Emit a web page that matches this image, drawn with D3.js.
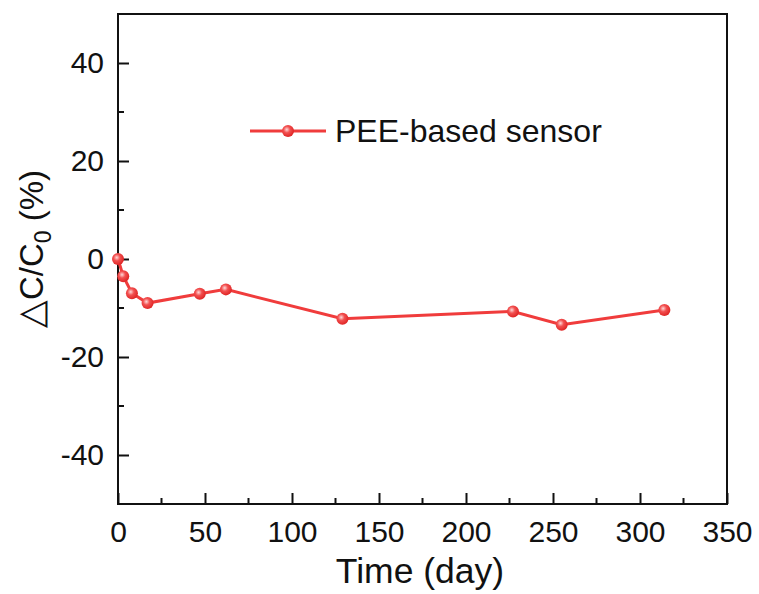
<!DOCTYPE html>
<html><head><meta charset="utf-8">
<script src="https://cdn.jsdelivr.net/npm/d3@7"></script>
<style>body{margin:0;background:#fff}svg{display:block}text{font-family:Arial,"Liberation Sans",sans-serif;fill:#111}</style>
</head><body><svg id="c" width="759" height="594"></svg>
<script>
const days = [0, 3, 8, 17, 47, 62, 129, 227, 255, 314];
const dC = [0, -3.5, -7.0, -9.0, -7.1, -6.2, -12.2, -10.7, -13.4, -10.4];
const xTicks = [0, 50, 100, 150, 200, 250, 300, 350];
const yTicks = [-40, -20, 0, 20, 40];
const seriesName = "PEE-based sensor";

const svg = d3.select("#c");
const L = 118, R = 727, T = 14, B = 504;
const x = d3.scaleLinear().domain([0, 350]).range([L, R]);
const y = d3.scaleLinear().domain([-50, 50]).range([B, T]);
const red = "#f03c3c";

const defs = svg.append("defs");
const g = defs.append("radialGradient").attr("id","ball").attr("cx","40%").attr("cy","38%").attr("r","60%");
g.append("stop").attr("offset","0%").attr("stop-color","#ffd8d8");
g.append("stop").attr("offset","45%").attr("stop-color","#f25050");
g.append("stop").attr("offset","100%").attr("stop-color","#e02828");

// frame
svg.append("rect").attr("x",L).attr("y",T).attr("width",R-L).attr("height",B-T)
  .attr("fill","none").attr("stroke","#111").attr("stroke-width",2);

// x axis
const xa = svg.append("g").attr("transform",`translate(0,${B})`)
  .call(d3.axisBottom(x).tickValues(xTicks).tickSize(-11).tickPadding(17).tickFormat(d=>String(d)));
xa.select(".domain").remove();
xa.selectAll("line").attr("stroke","#111").attr("stroke-width",2);
xa.selectAll("text").attr("font-size",30).attr("fill","#111");
const xMinor = d3.range(25, 350, 50);
svg.append("g").selectAll("line").data(xMinor).join("line")
  .attr("x1",d=>x(d)).attr("x2",d=>x(d)).attr("y1",B).attr("y2",B-6)
  .attr("stroke","#111").attr("stroke-width",2);

// y axis
const ya = svg.append("g").attr("transform",`translate(${L},0)`)
  .call(d3.axisLeft(y).tickValues(yTicks).tickSize(-11).tickPadding(14).tickFormat(d=>String(d)));
ya.select(".domain").remove();
ya.selectAll("line").attr("stroke","#111").attr("stroke-width",2);
ya.selectAll("text").attr("font-size",30).attr("fill","#111");
const yMinor = [-30, -10, 10, 30];
svg.append("g").selectAll("line").data(yMinor).join("line")
  .attr("x1",L).attr("x2",L+6).attr("y1",d=>y(d)).attr("y2",d=>y(d))
  .attr("stroke","#111").attr("stroke-width",2);

// axis titles
svg.append("text").attr("x",420).attr("y",583).attr("text-anchor","middle")
  .attr("font-size",35.5).text("Time (day)");
const yt = svg.append("text").attr("transform",`translate(43,249) rotate(-90)`)
  .attr("text-anchor","middle").attr("font-size",33);
yt.append("tspan").attr("font-size",36).text("\u25B3");
yt.append("tspan").text("C/C");
yt.append("tspan").attr("font-size",23).attr("dy",8).text("0");
yt.append("tspan").attr("dy",-8).text(" (%)");

// series
const pts = days.map((d,i)=>[d, dC[i]]);
svg.append("path").datum(pts)
  .attr("d", d3.line().x(d=>x(d[0])).y(d=>y(d[1])))
  .attr("fill","none").attr("stroke",red).attr("stroke-width",3);
svg.append("g").selectAll("circle").data(pts).join("circle")
  .attr("cx",d=>x(d[0])).attr("cy",d=>y(d[1])).attr("r",6).attr("fill","url(#ball)");

// legend
const ly = 131;
svg.append("line").attr("x1",250).attr("x2",326).attr("y1",ly).attr("y2",ly)
  .attr("stroke",red).attr("stroke-width",3);
svg.append("circle").attr("cx",288).attr("cy",ly).attr("r",6).attr("fill","url(#ball)");
svg.append("text").attr("x",335).attr("y",ly+11).attr("font-size",32).text(seriesName);
</script></body></html>
